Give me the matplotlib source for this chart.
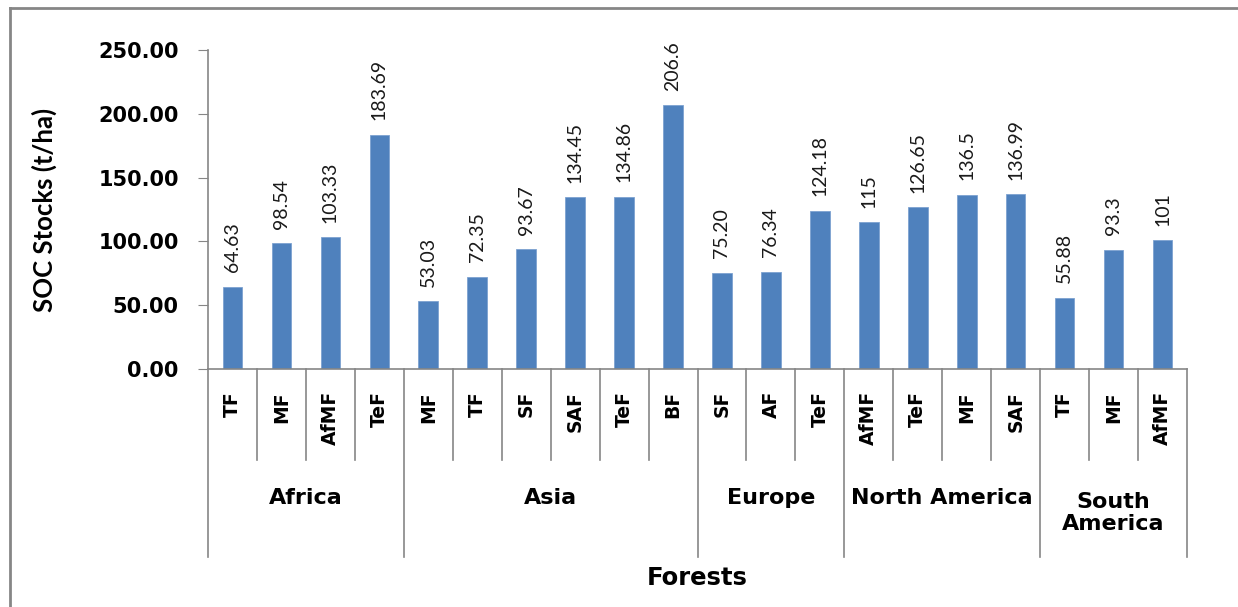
import numpy as np
import matplotlib.pyplot as plt
from matplotlib.lines import Line2D

# data
continents = ["Africa", "Asia", "Europe", "North America", "South\nAmerica"]
forest_types = [
    ["TF", "MF", "AfMF", "TeF"],
    ["MF", "TF", "SF", "SAF", "TeF", "BF"],
    ["SF", "AF", "TeF"],
    ["AfMF", "TeF", "MF", "SAF"],
    ["TF", "MF", "AfMF"],
]
soc_values = [
    [64.63, 98.54, 103.33, 183.69],
    [53.03, 72.35, 93.67, 134.45, 134.86, 206.6],
    [75.20, 76.34, 124.18],
    [115, 126.65, 136.5, 136.99],
    [55.88, 93.3, 101],
]
value_labels = [
    ["64.63", "98.54", "103.33", "183.69"],
    ["53.03", "72.35", "93.67", "134.45", "134.86", "206.6"],
    ["75.20", "76.34", "124.18"],
    ["115", "126.65", "136.5", "136.99"],
    ["55.88", "93.3", "101"],
]

cats = [c for grp in forest_types for c in grp]
vals = [v for grp in soc_values for v in grp]
labs = [l for grp in value_labels for l in grp]
x = np.arange(len(cats))

bar_color = "#4F81BD"
axis_gray = "#868686"

fig = plt.figure(figsize=(12.38, 6.07), dpi=100)
W, H = 1238, 607
ax = fig.add_axes([208 / W, 1 - 369 / H, (1187 - 208) / W, (369 - 50) / H])

ax.bar(x, vals, width=0.4, color=bar_color, edgecolor="#7DA2D1", linewidth=0.6, zorder=2)
ax.set_xlim(-0.5, len(cats) - 0.5)
ax.set_ylim(0, 250)

for xi, v, l in zip(x, vals, labs):
    ax.annotate(l, (xi, v), xytext=(0, 10.5), textcoords="offset points",
                rotation=90, ha="center", va="bottom", fontsize=14,
                family=["Lato", "DejaVu Sans"], color="#1a1a1a")

ax.set_yticks(np.arange(0, 251, 50))
ax.set_yticklabels(["%.2f" % t for t in np.arange(0, 251, 50)],
                   fontsize=15, fontweight="bold", family="DejaVu Sans")
ax.tick_params(axis="y", length=7, color=axis_gray, pad=14)
ax.set_xticks([])

for s in ["top", "right"]:
    ax.spines[s].set_visible(False)
for s in ["left", "bottom"]:
    ax.spines[s].set_color(axis_gray)
    ax.spines[s].set_linewidth(1.2)

ax.set_ylabel("SOC Stocks (t/ha)", fontsize=18.5, fontweight="bold",
              family=["Lato", "DejaVu Sans"], labelpad=30)

# two-level category axis
trans = ax.get_xaxis_transform()
y_lvl1 = (369 - 460) / 319
y_lvl2 = (369 - 557) / 319

for xi, c in zip(x, cats):
    ax.text(xi, (369 - 391) / 319, c, transform=trans, rotation=90,
            ha="center", va="top", fontsize=13.5, fontweight="bold",
            family="DejaVu Sans")

start = 0
bounds = [-0.5]
for grp, name in zip(forest_types, continents):
    n = len(grp)
    for k in range(1, n):
        ax.add_line(Line2D([start + k - 0.5] * 2, [0, y_lvl1], transform=trans,
                           color=axis_gray, lw=1.2, clip_on=False))
    center = start + (n - 1) / 2
    ax.text(center, (369 - 498) / 319 if "\n" not in name else (369 - 513) / 319,
            name, transform=trans, ha="center", va="center", fontsize=16,
            fontweight="bold", family="DejaVu Sans", linespacing=1.15)
    start += n
    bounds.append(start - 0.5)

for b in bounds:
    ax.add_line(Line2D([b, b], [0, y_lvl2], transform=trans,
                       color=axis_gray, lw=1.2, clip_on=False))

fig.text(697 / W, 1 - 578 / H, "Forests", ha="center", va="center",
         fontsize=17.5, fontweight="bold", family="DejaVu Sans")

# chart area border (left and top edges visible)
fig.add_artist(Line2D([10 / W, 10 / W], [0, 1 - 8 / H], color=axis_gray, lw=2))
fig.add_artist(Line2D([10 / W, 1], [1 - 8 / H, 1 - 8 / H], color=axis_gray, lw=2))

fig.savefig("out.png", dpi=100)
